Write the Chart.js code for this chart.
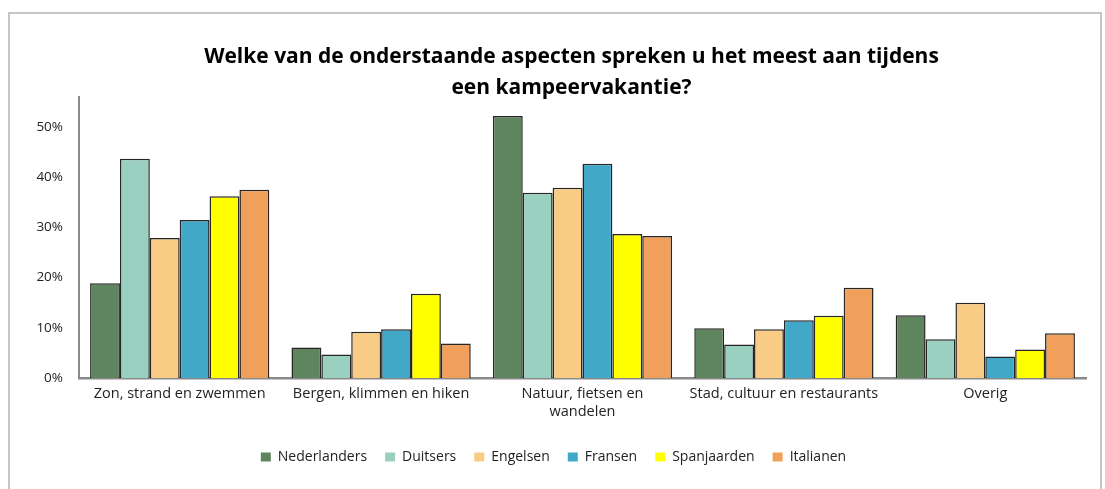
<!DOCTYPE html>
<html>
<head>
<meta charset="utf-8">
<script src="https://cdn.jsdelivr.net/npm/chart.js@4.4.1/dist/chart.umd.min.js"></script>
<style>
  html, body { margin: 0; padding: 0; background: #fff; }
  #wrap { position: relative; width: 1105px; height: 489px; overflow: hidden; }
  #frame { position: absolute; left: 8px; top: 12px; width: 1090px; height: 500px; border: 2px solid #c6c6c6; box-sizing: content-box; pointer-events: none; }
  canvas { position: absolute; left: 0; top: 0; }
</style>
</head>
<body>
<div id="wrap">
  <canvas id="c" width="1105" height="489"></canvas>
  <div id="frame"></div>
</div>
<script>
const titleLines = ['Welke van de onderstaande aspecten spreken u het meest aan tijdens', 'een kampeervakantie?'];
const categories = [
  'Zon, strand en zwemmen',
  'Bergen, klimmen en hiken',
  ['Natuur, fietsen en', 'wandelen'],
  'Stad, cultuur en restaurants',
  'Overig'
];
const seriesNames = ['Nederlanders', 'Duitsers', 'Engelsen', 'Fransen', 'Spanjaarden', 'Italianen'];
const nederlanders = [18.9, 6.1, 52.2, 9.9, 12.5];
const duitsers     = [43.7, 4.7, 36.9, 6.7, 7.7];
const engelsen     = [27.9, 9.2, 37.9, 9.7, 15.0];
const fransen      = [31.5, 9.7, 42.7, 11.5, 4.3];
const spanjaarden  = [36.2, 16.8, 28.7, 12.4, 5.7];
const italianen    = [37.5, 6.9, 28.3, 18.0, 8.9];
const seriesValues = [nederlanders, duitsers, engelsen, fransen, spanjaarden, italianen];
const seriesColors = ['#5f855f', '#99d0bf', '#f9cc86', '#42a8c8', '#ffff00', '#f0a05a'];
const yTicks = [0, 10, 20, 30, 40, 50];

const FONT = '"Open Sans", "Noto Sans", sans-serif';

const shiftBlocks = {
  id: 'shiftBlocks',
  afterLayout(chart) {
    const t = chart.titleBlock;
    if (t) { t.left += 24; t.right += 24; }
    const l = chart.legend;
    if (l) { l.left += 6; l.right += 6; }
  }
};

new Chart(document.getElementById('c'), {
  type: 'bar',
  data: {
    labels: categories,
    datasets: seriesNames.map((name, i) => ({
      label: name,
      data: seriesValues[i],
      backgroundColor: seriesColors[i],
      borderColor: '#262626',
      borderWidth: 1.5,
      categoryPercentage: 0.89,
      barPercentage: 1.0
    }))
  },
  plugins: [shiftBlocks],
  options: {
    responsive: false,
    animation: false,
    layout: { padding: { left: 9, right: 19, top: 12, bottom: 15 } },
    plugins: {
      title: {
        display: true,
        text: titleLines,
        color: '#000',
        font: { family: FONT, size: 21, weight: 'bold', lineHeight: 31 / 21 },
        padding: { top: 29.5, bottom: -6.5 }
      },
      legend: {
        position: 'bottom',
        labels: {
          color: '#222',
          font: { family: FONT, size: 14 },
          boxWidth: 10,
          boxHeight: 9,
          padding: 18,
          generateLabels(chart) {
            const items = Chart.defaults.plugins.legend.labels.generateLabels(chart);
            items.forEach(it => { it.lineWidth = 0; it.strokeStyle = 'rgba(0,0,0,0)'; });
            return items;
          }
        }
      },
      tooltip: { enabled: false }
    },
    scales: {
      x: {
        grid: { display: false, drawTicks: false },
        border: { display: true, color: '#8a8a8a', width: 2.5 },
        ticks: {
          color: '#222',
          font: { family: FONT, size: 14.5, lineHeight: 1.25 },
          padding: 7,
          maxRotation: 0,
          autoSkip: false
        },
        afterFit(scale) { scale.height = 54; }
      },
      y: {
        min: 0,
        max: 56,
        grid: { display: false, drawTicks: false },
        border: { display: true, color: '#8a8a8a', width: 2 },
        ticks: {
          stepSize: 10,
          color: '#222',
          font: { family: FONT, size: 13.5 },
          padding: 16,
          callback: v => v + '%'
        },
        afterBuildTicks(scale) {
          scale.ticks = yTicks.map(v => ({ value: v }));
        },
        afterFit(scale) { scale.width = 70; }
      }
    }
  }
});
</script>
</body>
</html>
